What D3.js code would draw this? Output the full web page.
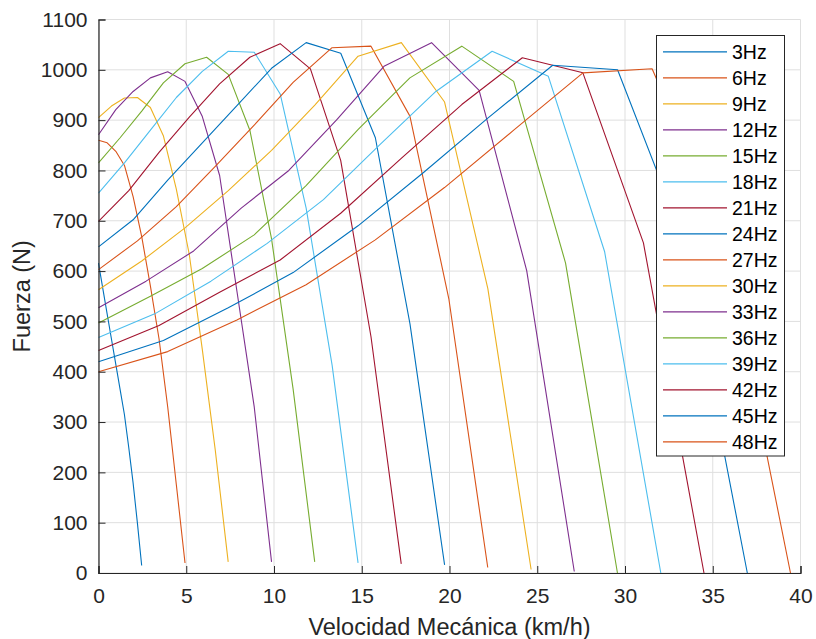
<!DOCTYPE html>
<html>
<head>
<meta charset="utf-8">
<script src="https://cdn.jsdelivr.net/npm/d3@7"></script>
<style>
  body { margin: 0; background: #fff; }
  text { font-family: "Liberation Sans", Arial, Helvetica, sans-serif; }
</style>
</head>
<body>
<div id="chart"></div>
<script>
// frequencies (legend) and synchronous speed of each curve, km/h
var freqs = [3, 6, 9, 12, 15, 18, 21, 24, 27, 30, 33, 36, 39, 42, 45, 48];
var vSync = [2.46, 4.93, 7.39, 9.86, 12.32, 14.79, 17.25, 19.72, 22.18, 24.65, 27.11, 29.57, 32.04, 34.5, 36.97, 39.43];
// slip points where each curve was sampled
var slip = [1, 0.9, 0.8, 0.7, 0.6, 0.5, 0.4, 0.3, 0.2, 0.1, 0];
// force (N) per curve, one value per slip point
var f3  = [616, 565, 515, 465, 415, 365, 315, 250, 180, 100, 15];
var f6  = [860, 855, 838, 810, 748, 668, 570, 465, 330, 175, 20];
var f9  = [905, 928, 944, 945, 925, 869, 763, 633, 445, 245, 22];
var f12 = [871, 921, 957, 984, 996, 977, 907, 790, 560, 330, 22];
var f15 = [815, 865, 918, 974, 1012, 1025, 991, 880, 665, 366, 22];
var f18 = [755, 815, 880, 945, 997, 1037, 1035, 952, 725, 413, 20];
var f21 = [699, 760, 836, 906, 972, 1025, 1052, 1002, 820, 470, 18];
var f24 = [648, 702, 781, 855, 929, 1003, 1054, 1033, 865, 495, 16];
var f27 = [603, 660, 728, 808, 890, 975, 1044, 1047, 908, 545, 11];
var f30 = [563, 620, 686, 760, 840, 930, 1027, 1054, 936, 565, 7];
var f33 = [527, 580, 640, 725, 800, 900, 1007, 1054, 959, 601, 3];
var f36 = [497, 550, 605, 672, 770, 881, 984, 1047, 977, 616, 0];
var f39 = [468, 515, 580, 655, 742, 851, 957, 1037, 987, 639, 0];
var f42 = [442, 492, 558, 622, 715, 824, 931, 1024, 994, 656, 0];
var f45 = [420, 462, 527, 597, 690, 795, 904, 1009, 1000, 668, 0];
var f48 = [400, 440, 503, 573, 662, 766, 880, 994, 1002, 685, 0];
var fuerza = [f3, f6, f9, f12, f15, f18, f21, f24, f27, f30, f33, f36, f39, f42, f45, f48];

var xTicks = [0, 5, 10, 15, 20, 25, 30, 35, 40];
var yTicks = [0, 100, 200, 300, 400, 500, 600, 700, 800, 900, 1000, 1100];

// matlab default line colours
var colors = ["#0072BD", "#D95319", "#EDB120", "#7E2F8E", "#77AC30", "#4DBEEE", "#A2142F"];

var W = 816, H = 639;
var m = { left: 98.5, top: 19.5, right: 15.5, bottom: 66 };
var w = W - m.left - m.right, h = H - m.top - m.bottom;

var svg = d3.select("#chart").append("svg").attr("width", W).attr("height", H);
var g = svg.append("g").attr("transform", "translate(" + m.left + "," + m.top + ")");

var x = d3.scaleLinear().domain([0, 40]).range([0, w]);
var y = d3.scaleLinear().domain([0, 1100]).range([h, 0]);

// grid
g.selectAll(".gx").data(xTicks).enter().append("line")
  .attr("x1", d => x(d)).attr("x2", d => x(d)).attr("y1", 0).attr("y2", h)
  .attr("stroke", "#dfdfdf").attr("stroke-width", 1);
g.selectAll(".gy").data(yTicks).enter().append("line")
  .attr("y1", d => y(d)).attr("y2", d => y(d)).attr("x1", 0).attr("x2", w)
  .attr("stroke", "#dfdfdf").attr("stroke-width", 1);

// curves
var line = d3.line().x(d => x(d[0])).y(d => y(d[1]));
freqs.forEach(function (f, i) {
  var pts = slip.map(function (s, k) { return [vSync[i] * (1 - s), fuerza[i][k]]; });
  g.append("path").datum(pts)
    .attr("d", line)
    .attr("fill", "none")
    .attr("stroke", colors[i % colors.length])
    .attr("stroke-width", 1.1)
    .attr("stroke-linejoin", "round");
});

// axes (ticks inward)
var xAxis = g.append("g").attr("transform", "translate(0," + h + ")")
  .call(d3.axisBottom(x).tickValues(xTicks).tickFormat(d3.format("d")).tickSize(-7).tickPadding(15));
var yAxis = g.append("g")
  .call(d3.axisLeft(y).tickValues(yTicks).tickFormat(d3.format("d")).tickSize(-7).tickPadding(11));
[xAxis, yAxis].forEach(function (a) {
  a.select(".domain").attr("stroke", "#262626").attr("stroke-width", 1.2);
  a.selectAll(".tick line").attr("stroke", "#262626");
  a.selectAll(".tick text").attr("fill", "#262626")
    .style("font-size", "21px")
    .style("font-family", "'Liberation Sans', Arial, sans-serif");
});

// axis titles
svg.append("text")
  .attr("x", m.left + w / 2).attr("y", 635)
  .attr("text-anchor", "middle").attr("fill", "#262626")
  .style("font-size", "23.5px")
  .text("Velocidad Mecánica (km/h)");
svg.append("text")
  .attr("transform", "translate(30," + (m.top + h / 2) + ") rotate(-90)")
  .attr("text-anchor", "middle").attr("fill", "#262626")
  .style("font-size", "23.5px")
  .text("Fuerza (N)");

// legend
var lg = svg.append("g").attr("transform", "translate(656.5,35.5)");
lg.append("rect").attr("width", 128).attr("height", 420.5)
  .attr("fill", "#fff").attr("stroke", "#262626").attr("stroke-width", 1);
freqs.forEach(function (f, i) {
  var yy = 16.3 + i * 26;
  lg.append("line").attr("x1", 6.5).attr("x2", 70.5).attr("y1", yy).attr("y2", yy)
    .attr("stroke", colors[i % colors.length]).attr("stroke-width", 1.2);
  lg.append("text").attr("x", 75.5).attr("y", yy + 7)
    .attr("fill", "#000").style("font-size", "19.5px")
    .text(f + "Hz");
});
</script>
</body>
</html>
